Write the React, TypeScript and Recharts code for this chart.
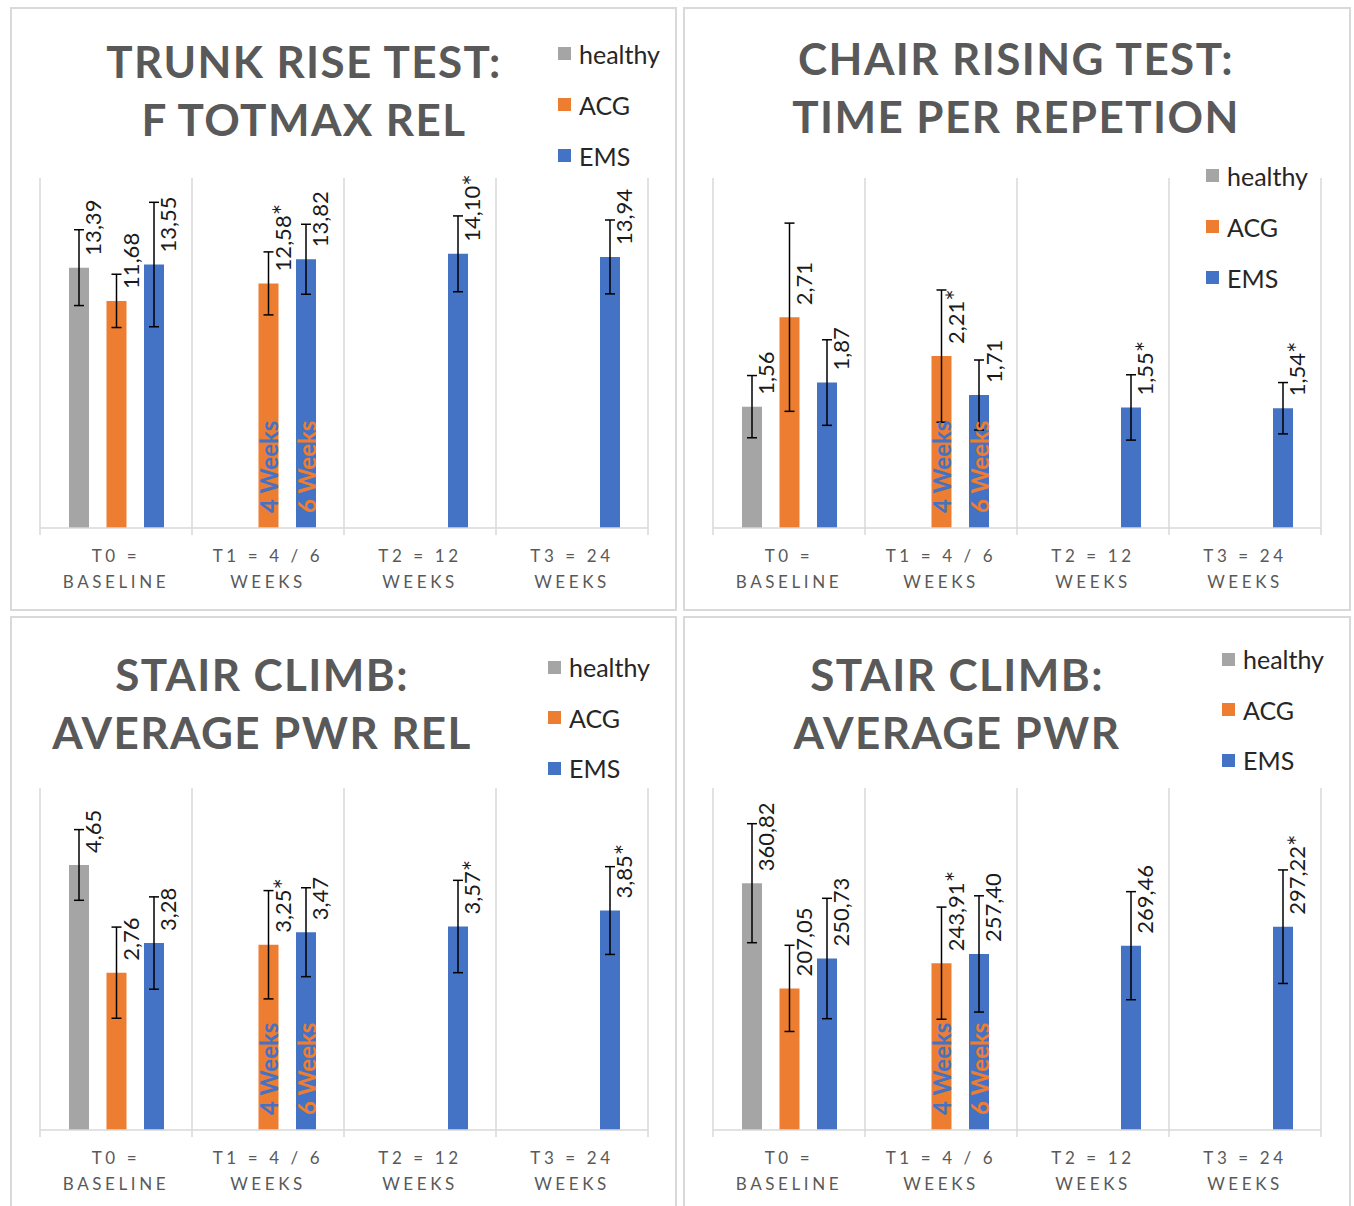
import React from 'react';
import { BarChart, Bar, XAxis, YAxis, CartesianGrid, ErrorBar, LabelList, Legend } from 'recharts';

// ── shared categories / series ──────────────────────────────────────────────
const categoryTop = ['T0 =', 'T1 = 4 / 6', 'T2 = 12', 'T3 = 24'];
const categoryBottom = ['BASELINE', 'WEEKS', 'WEEKS', 'WEEKS'];
const seriesNames = ['healthy', 'ACG', 'EMS'];
const acgNotes = ['', '4 Weeks', '', ''];
const emsNotes = ['', '6 Weeks', '', ''];

// ── trunk rise test: F totmax rel ───────────────────────────────────────────
const trunkHealthy = [13.39, null, null, null];
const trunkHealthyErr = [1.95, null, null, null];
const trunkAcg = [11.68, 12.58, null, null];
const trunkAcgErr = [1.37, 1.62, null, null];
const trunkAcgSig = [false, true, false, false];
const trunkEms = [13.55, 13.82, 14.1, 13.94];
const trunkEmsErr = [3.2, 1.8, 1.95, 1.9];
const trunkEmsSig = [false, false, true, false];

// ── chair rising test: time per repetition ──────────────────────────────────
const chairHealthy = [1.56, null, null, null];
const chairHealthyErr = [0.4, null, null, null];
const chairAcg = [2.71, 2.21, null, null];
const chairAcgErr = [1.21, 0.85, null, null];
const chairAcgSig = [false, true, false, false];
const chairEms = [1.87, 1.71, 1.55, 1.54];
const chairEmsErr = [0.55, 0.45, 0.42, 0.33];
const chairEmsSig = [false, false, true, true];

// ── stair climb: average pwr rel ────────────────────────────────────────────
const stairRelHealthy = [4.65, null, null, null];
const stairRelHealthyErr = [0.62, null, null, null];
const stairRelAcg = [2.76, 3.25, null, null];
const stairRelAcgErr = [0.8, 0.95, null, null];
const stairRelAcgSig = [false, true, false, false];
const stairRelEms = [3.28, 3.47, 3.57, 3.85];
const stairRelEmsErr = [0.81, 0.78, 0.81, 0.77];
const stairRelEmsSig = [false, false, true, true];

// ── stair climb: average pwr ────────────────────────────────────────────────
const stairPwrHealthy = [360.82, null, null, null];
const stairPwrHealthyErr = [87, null, null, null];
const stairPwrAcg = [207.05, 243.91, null, null];
const stairPwrAcgErr = [63, 82, null, null];
const stairPwrAcgSig = [false, true, false, false];
const stairPwrEms = [250.73, 257.4, 269.46, 297.22];
const stairPwrEmsErr = [88, 85, 79, 83];
const stairPwrEmsSig = [false, false, false, true];

const GRAY = '#a5a5a5';
const ORANGE = '#ed7d31';
const BLUE = '#4472c4';
const GRID = '#d9d9d9';
const FONT = 'Lato, "Open Sans", sans-serif';

type Num = number | null;

const fmt = (v: Num, sig = false) =>
    v == null ? '' : v.toFixed(2).replace('.', ',') + (sig ? '*' : '');

function buildRows(h: Num[], hE: Num[], a: Num[], aE: Num[], aS: boolean[], e: Num[], eE: Num[], eS: boolean[]) {
    return categoryTop.map((cat, i) => ({
        cat,
        healthy: h[i],
        healthyErr: hE[i],
        healthyLabel: fmt(h[i]),
        acg: a[i],
        acgErr: aE[i],
        acgLabel: fmt(a[i], aS[i]),
        acgNote: acgNotes[i],
        ems: e[i],
        emsErr: eE[i],
        emsLabel: fmt(e[i], eS[i]),
        emsNote: emsNotes[i],
    }));
}

const box = (props: any) => {
    const vb = props.viewBox || {};
    return {
        x: Number(props.x ?? vb.x),
        y: Number(props.y ?? vb.y),
        w: Number(props.width ?? vb.width),
        h: Number(props.height ?? vb.height),
    };
};

// rotated value label above the bar, shifted right of the error bar
const ValueLabel = (props: any) => {
    if (props.value == null || props.value === '') return null;
    const { x, y, w } = box(props);
    const cx = x + w / 2 + 14;
    const cy = y - 12;
    const text = String(props.value);
    const star = text.endsWith('*');
    return (
        <text x={cx} y={cy} transform={`rotate(-90 ${cx} ${cy})`} textAnchor="start"
            dominantBaseline="central" fontFamily={FONT} fontSize={22} fill="#1a1a1a">
            {star ? text.slice(0, -1) : text}
            {star && <tspan fontSize={27}>*</tspan>}
        </text>
    );
};

const noteLabel = (color: string) => (props: any) => {
    if (!props.value) return null;
    const { x, y, w, h } = box(props);
    const cx = x + w / 2;
    const cy = y + h - 15;
    return (
        <text x={cx} y={cy} transform={`rotate(-90 ${cx} ${cy})`} textAnchor="start"
            dominantBaseline="central" fontFamily={FONT} fontSize={24} fontWeight={700} fill={color}>
            {props.value}
        </text>
    );
};

const CategoryTick = (props: any) => {
    const { x, y, index } = props;
    const band = 152;
    const left = x - band / 2;
    return (
        <g>
            <line x1={left} x2={left} y1={y} y2={y + 7} stroke={GRID} strokeWidth={1.5} />
            {index === categoryTop.length - 1 && (
                <line x1={x + band / 2} x2={x + band / 2} y1={y} y2={y + 7} stroke={GRID} strokeWidth={1.5} />
            )}
            <text x={x} y={y + 34} textAnchor="middle" fontFamily={FONT} fontSize={17}
                letterSpacing={3.6} fill="#595959">{categoryTop[index]}</text>
            <text x={x} y={y + 60} textAnchor="middle" fontFamily={FONT} fontSize={17}
                letterSpacing={3.6} fill="#595959">{categoryBottom[index]}</text>
        </g>
    );
};

const makeLegend = (rowH: number) => (props: any) => {
    const items = seriesNames
        .map((n) => (props.payload || []).find((p: any) => p.value === n))
        .filter(Boolean);
    return (
        <div>
            {items.map((p: any) => (
                <div key={p.value} style={{ display: 'flex', alignItems: 'center', height: rowH, fontFamily: FONT, fontSize: 25, color: '#262626', whiteSpace: 'nowrap' }}>
                    <span style={{ display: 'inline-block', width: 13, height: 13, background: p.color, marginRight: 8 }} />
                    {p.value}
                </div>
            ))}
        </div>
    );
};

interface PanelProps {
    x: number; y: number; w: number; h: number;
    margin: { top: number; left: number; right: number; bottom: number };
    title: string[];
    titleX: number;
    titleY: number[];
    legendX: number; legendY: number; legendRow: number;
    rows: ReturnType<typeof buildRows>;
    max: number;
}

function Panel({ x, y, w, h, margin, title, titleX, titleY, legendX, legendY, legendRow, rows, max }: PanelProps) {
    return (
        <div style={{ position: 'absolute', left: x, top: y, width: w, height: h }}>
            <div style={{ position: 'absolute', inset: 0, border: `2px solid ${GRID}`, boxSizing: 'border-box' }} />
            <BarChart width={w} height={h} data={rows} margin={margin} barSize={20} barGap={17.5}>
                <CartesianGrid
                    horizontal={false}
                    stroke={GRID}
                    strokeWidth={1.5}
                    verticalCoordinatesGenerator={({ offset }: any) =>
                        categoryTop.concat(['']).map((_, i) => offset.left + (i * offset.width) / categoryTop.length)
                    }
                />
                <XAxis dataKey="cat" height={70} tickLine={false} tickSize={0} tickMargin={0}
                    axisLine={{ stroke: GRID, strokeWidth: 1.5 }} tick={<CategoryTick />} interval={0} />
                <YAxis hide domain={[0, max]} />
                <Legend layout="vertical" align="center" verticalAlign="middle"
                    content={makeLegend(legendRow)}
                    wrapperStyle={{ position: 'absolute', left: legendX, top: legendY, width: 'auto', height: 'auto' }} />
                <Bar dataKey="healthy" name="healthy" fill={GRAY} isAnimationActive={false}>
                    <ErrorBar dataKey="healthyErr" width={5} stroke="#000" strokeWidth={1.5} isAnimationActive={false} />
                    <LabelList dataKey="healthyLabel" content={ValueLabel} />
                </Bar>
                <Bar dataKey="acg" name="ACG" fill={ORANGE} isAnimationActive={false}>
                    <ErrorBar dataKey="acgErr" width={5} stroke="#000" strokeWidth={1.5} isAnimationActive={false} />
                    <LabelList dataKey="acgLabel" content={ValueLabel} />
                    <LabelList dataKey="acgNote" content={noteLabel(BLUE)} />
                </Bar>
                <Bar dataKey="ems" name="EMS" fill={BLUE} isAnimationActive={false}>
                    <ErrorBar dataKey="emsErr" width={5} stroke="#000" strokeWidth={1.5} isAnimationActive={false} />
                    <LabelList dataKey="emsLabel" content={ValueLabel} />
                    <LabelList dataKey="emsNote" content={noteLabel(ORANGE)} />
                </Bar>
            </BarChart>
            <svg width={w} height={180} style={{ position: 'absolute', left: 0, top: 0, pointerEvents: 'none' }}>
                {title.map((line, i) => (
                    <text key={i} x={titleX} y={titleY[i]} textAnchor="middle" fontFamily={FONT}
                        fontWeight={700} fontSize={44} letterSpacing={1.4} fill="#595959">{line}</text>
                ))}
            </svg>
        </div>
    );
}

export default function App() {
    const topMargin = { top: 171, left: 30, right: 29, bottom: 13 };
    const bottomMargin = { top: 172, left: 30, right: 29, bottom: 16 };
    return (
        <div style={{ position: 'absolute', left: 0, top: 0, width: 1354, height: 1206, overflow: 'hidden', background: '#fff' }}>
            <Panel x={10} y={7} w={667} h={604} margin={topMargin}
                title={['TRUNK RISE TEST:', 'F TOTMAX REL']} titleX={294} titleY={[71, 129]}
                legendX={548} legendY={21} legendRow={51}
                rows={buildRows(trunkHealthy, trunkHealthyErr, trunkAcg, trunkAcgErr, trunkAcgSig, trunkEms, trunkEmsErr, trunkEmsSig)}
                max={18} />
            <Panel x={683} y={7} w={668} h={604} margin={{ ...topMargin, right: 30 }}
                title={['CHAIR RISING TEST:', 'TIME PER REPETION']} titleX={333} titleY={[68, 126]}
                legendX={523} legendY={143} legendRow={51}
                rows={buildRows(chairHealthy, chairHealthyErr, chairAcg, chairAcgErr, chairAcgSig, chairEms, chairEmsErr, chairEmsSig)}
                max={4.5} />
            <Panel x={10} y={616} w={667} h={600} margin={bottomMargin}
                title={['STAIR CLIMB:', 'AVERAGE PWR REL']} titleX={252} titleY={[75, 133]}
                legendX={538} legendY={26} legendRow={50.5}
                rows={buildRows(stairRelHealthy, stairRelHealthyErr, stairRelAcg, stairRelAcgErr, stairRelAcgSig, stairRelEms, stairRelEmsErr, stairRelEmsSig)}
                max={6} />
            <Panel x={683} y={616} w={668} h={600} margin={{ ...bottomMargin, right: 30 }}
                title={['STAIR CLIMB:', 'AVERAGE PWR']} titleX={274} titleY={[75, 133]}
                legendX={539} legendY={18} legendRow={50.5}
                rows={buildRows(stairPwrHealthy, stairPwrHealthyErr, stairPwrAcg, stairPwrAcgErr, stairPwrAcgSig, stairPwrEms, stairPwrEmsErr, stairPwrEmsSig)}
                max={500} />
        </div>
    );
}
